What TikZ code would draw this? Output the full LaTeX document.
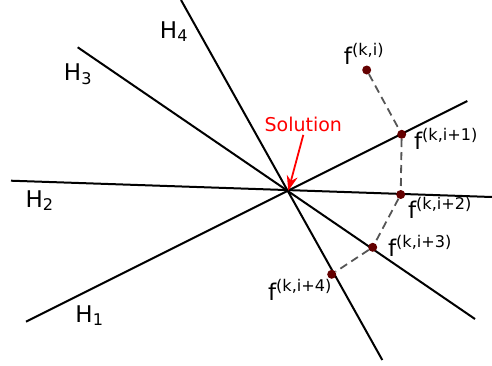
\documentclass[tikz,border=0pt]{standalone}
\usepackage{fontspec}
\setmainfont{DejaVu Sans}
\usetikzlibrary{arrows.meta}

\definecolor{dotred}{RGB}{100,0,0}
\definecolor{trailgray}{RGB}{85,85,85}
\newcommand{\fiter}[1]{f\textsuperscript{(k,#1)}}

\begin{document}
\begin{tikzpicture}[x=1pt, y=-1pt,
  hline/.style={line width=2pt, black},
  iter/.style={circle, fill=dotred, inner sep=0pt, minimum size=9pt},
  trail/.style={trailgray, line width=1.8pt, dash pattern=on 8pt off 5pt},
  lab/.style={font=\fontsize{23}{23}\selectfont, inner sep=0pt},
  arrow/.style={-{Stealth[length=15pt, width=11pt]}, red, line width=1.8pt}
]
\useasboundingbox (0,0) rectangle (492,365);

% Hyperplanes through the solution point
\coordinate (sol) at (288.3,190.7);
\coordinate (h1a) at (26,321.7);   \coordinate (h1b) at (467.3,101);
\coordinate (h2a) at (11,180.7);   \coordinate (h2b) at (492,197);
\coordinate (h3a) at (77.7,47.3);  \coordinate (h3b) at (475,319);
\coordinate (h4a) at (181,0);      \coordinate (h4b) at (382.3,360);
\draw[hline] (h1a) -- (h1b);
\draw[hline] (h2a) -- (h2b);
\draw[hline] (h3a) -- (h3b);
\draw[hline] (h4a) -- (h4b);

\node[lab] (lh1) at (89.5,315.7) {H\textsubscript{1}};
\node[lab] (lh2) at (39.7,200.7) {H\textsubscript{2}};
\node[lab] (lh3) at (78,74.5)    {H\textsubscript{3}};
\node[lab] (lh4) at (174,31.5)   {H\textsubscript{4}};

% Iterates
\node[iter] (f0) at (366.7,70) {};
\node[iter] (f1) at (401.7,134.3) {};
\node[iter] (f2) at (400.7,194.5) {};
\node[iter] (f3) at (372.7,247.3) {};
\node[iter] (f4) at (331.7,274.3) {};
\draw[trail] (f0) -- (f1) -- (f2) -- (f3) -- (f4);

\node[lab] (lf0) at (364,54)  {\fiter{i}};
\node[lab] (lf1) at (446,139) {\fiter{i+1}};
\node[lab] (lf2) at (440,208) {\fiter{i+2}};
\node[lab] (lf3) at (420,246) {\fiter{i+3}};
\node[lab] (lf4) at (300,290) {\fiter{i+4}};

% Solution marker
\node[font=\fontsize{19}{19}\selectfont, text=red] (sollab) at (303.3,124) {Solution};
\draw[arrow] (sollab.south) -- (sol);

\end{tikzpicture}
\end{document}
